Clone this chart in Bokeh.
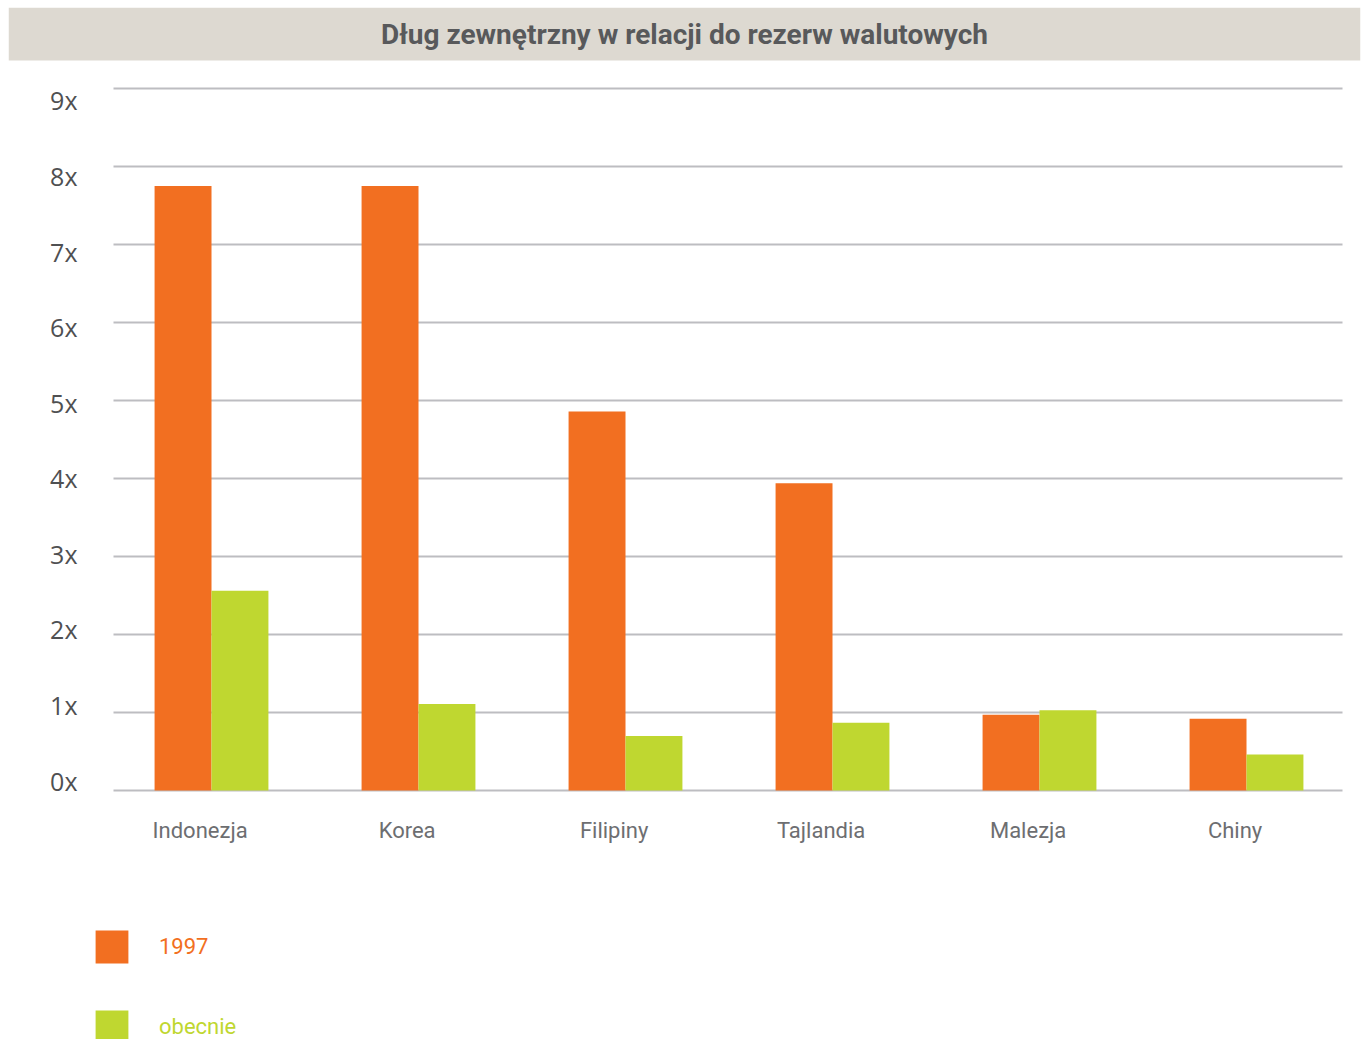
from bokeh.plotting import figure
from bokeh.models import (Range1d, LinearAxis, FixedTicker, PrintfTickFormatter, Grid,
                          ColumnDataSource, Legend, LegendItem, BoxAnnotation, Label)
from bokeh.transform import dodge
from bokeh.embed import file_html
from bokeh.resources import INLINE

# ---- data ----
title_text = "Dług zewnętrzny w relacji do rezerw walutowych"
countries = ["Indonezja", "Korea", "Filipiny", "Tajlandia", "Malezja", "Chiny"]
values_1997 = [7.75, 7.75, 4.86, 3.94, 0.97, 0.92]
values_now = [2.56, 1.11, 0.70, 0.87, 1.03, 0.46]
series_names = ["1997", "obecnie"]
y_ticks = [0, 1, 2, 3, 4, 5, 6, 7, 8, 9]

ORANGE = "#f26f21"
GREEN = "#bfd730"
GRID = "#bdbdc1"
TXT = "#58595b"
BAR_BG = "#ddd9d1"

# ---- layout geometry (pixels -> data units) ----
PX_X = 207.0          # pixels per category
PX_Y = 78.0           # pixels per 1x
X0_PAGE = 211.0       # page x of category 0
Y0_PAGE = 790.0       # page y of value 0


def xd(px):
    return (px - X0_PAGE) / PX_X


def yd(py):
    return (Y0_PAGE - py) / PX_Y


idx = list(range(len(countries)))
src = ColumnDataSource(dict(idx=idx, country=countries, v1997=values_1997, vnow=values_now))

p = figure(width=1364, height=1039,
           x_range=Range1d(xd(8), xd(1360)), y_range=Range1d(yd(1039), yd(7)),
           toolbar_location=None, output_backend="svg",
           x_axis_location=None, y_axis_location=None, outline_line_color=None,
           min_border_left=8, min_border_right=4, min_border_top=7, min_border_bottom=0)
p.xgrid.visible = False
p.ygrid.visible = False

# title bar
p.add_layout(BoxAnnotation(bottom=yd(60), fill_color=BAR_BG, fill_alpha=1.0,
                           line_color=None, level="underlay"))
p.add_layout(Label(x=xd(684), y=yd(33.5), text=title_text, text_align="center",
                   text_baseline="middle", text_font="Roboto", text_font_style="bold",
                   text_font_size="28px", text_color=TXT))

# horizontal grid lines
if "cross_bounds" in Grid.properties():
    g = Grid(dimension=1, ticker=FixedTicker(ticks=y_ticks), grid_line_color=GRID,
             grid_line_width=2, bounds=(0, 9))
    g.cross_bounds = (xd(113), xd(1342))
    p.add_layout(g, "center")
else:
    p.segment(x0=xd(113), x1=xd(1342), y0=y_ticks, y1=y_ticks, line_color=GRID,
              line_width=2, level="underlay")

bw = 0.275
r1 = p.vbar(x=dodge("idx", -bw / 2, range=p.x_range), top="v1997", bottom=0, width=bw,
            source=src, fill_color=ORANGE, line_color=None)
r2 = p.vbar(x=dodge("idx", bw / 2, range=p.x_range), top="vnow", bottom=0, width=bw,
            source=src, fill_color=GREEN, line_color=None)

# y-axis labels (own label scale, as in the original)
LBL_PX = 75.556
p.extra_y_ranges = {"lbl": Range1d(-(1039 - 780) / LBL_PX, 9 + (100 - 7) / LBL_PX)}
yax = LinearAxis(y_range_name="lbl", ticker=FixedTicker(ticks=y_ticks),
                 formatter=PrintfTickFormatter(format="%dx"), fixed_location=xd(113))
yax.axis_line_color = None
yax.major_tick_line_color = None
yax.minor_tick_line_color = None
yax.major_label_standoff = 30
yax.major_label_text_font = "Open Sans"
yax.major_label_text_font_size = "25px"
yax.major_label_text_color = "#4f5052"
p.add_layout(yax, "left")

# x-axis labels
x_ticks = [i - 0.055 for i in idx]
xax = LinearAxis(ticker=FixedTicker(ticks=x_ticks), fixed_location=0)
xax.major_label_overrides = {t: c for t, c in zip(x_ticks, countries)}
xax.axis_line_color = None
xax.major_tick_line_color = None
xax.minor_tick_line_color = None
xax.major_label_standoff = 21
xax.major_label_text_font = "Roboto"
xax.major_label_text_font_size = "22px"
xax.major_label_text_color = "#6d6e71"
p.add_layout(xax, "below")

# legends, one per series so each label takes its series colour
for name, rend, col, vy in [(series_names[0], r1, ORANGE, 1039 - 967),
                            (series_names[1], r2, GREEN, 1039 - 1047)]:
    lg = Legend(items=[LegendItem(label=name, renderers=[rend])], location=(91 - 8, vy),
                glyph_width=41, glyph_height=41, label_standoff=27, padding=0, margin=0,
                border_line_color=None, background_fill_alpha=0,
                label_text_color=col, label_text_font="Roboto",
                label_text_font_size="22px")
    p.add_layout(lg, "center")

open("out.html", "w").write(file_html(p, INLINE))
